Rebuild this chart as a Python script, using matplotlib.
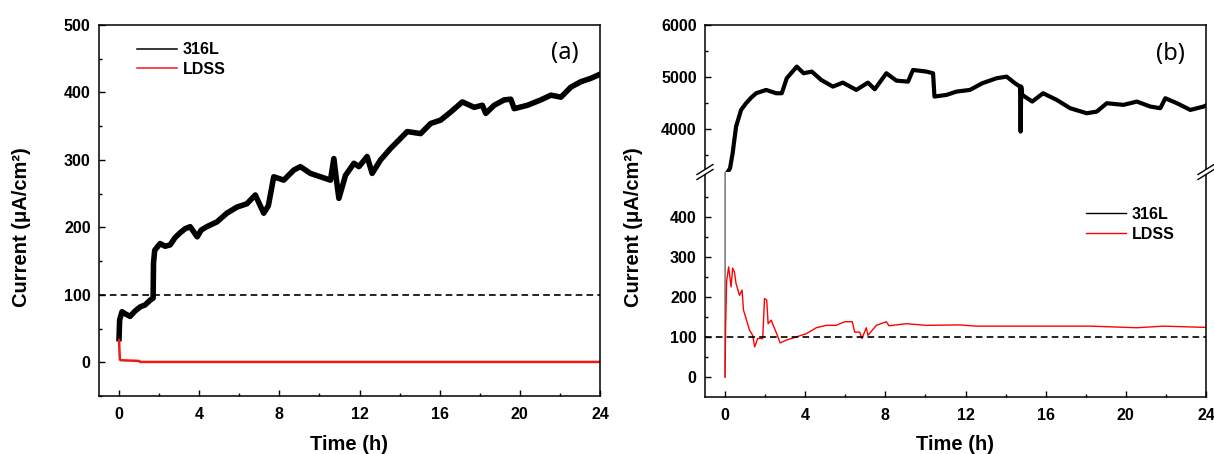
import matplotlib
matplotlib.use("Agg")
import matplotlib.pyplot as plt
from matplotlib.lines import Line2D
from matplotlib.patches import Polygon
from matplotlib.ticker import MultipleLocator, FixedLocator

plt.rcParams["font.family"] = ["Liberation Sans", "DejaVu Sans"]
plt.rcParams["font.weight"] = "bold"
plt.rcParams["axes.labelweight"] = "bold"

# (a) current vs time
t_a_316 = [0, 0.03, 0.15, 0.3, 0.55, 0.8, 1.05, 1.3, 1.55, 1.7,
           1.72, 1.78, 2.05, 2.3, 2.55, 2.8, 3.05, 3.3, 3.55, 3.9,
           4.1, 4.38, 4.88, 5.38, 5.88, 6.38, 6.8, 7.22, 7.45, 7.72,
           8.22, 8.72, 9.05, 9.55, 10.05, 10.55, 10.72, 10.85, 10.97, 11.3,
           11.72, 11.97, 12.38, 12.63, 13.05, 13.55, 14.05, 14.38, 15.05, 15.55,
           16.05, 16.55, 17.13, 17.72, 18.13, 18.3, 18.72, 19.22, 19.55, 19.72,
           20.38, 21.05, 21.55, 22.05, 22.55, 23.05, 23.55, 24]
i_a_316 = [35, 63, 75, 72, 68, 76, 82, 85, 92, 95,
           147, 166, 176, 172, 174, 185, 192, 198, 201, 186,
           196, 201, 208, 221, 230, 235, 248, 221, 232, 275,
           270, 285, 290, 280, 275, 270, 302, 270, 243, 277,
           295, 290, 305, 280, 300, 317, 332, 342, 339, 354,
           359, 371, 386, 378, 381, 369, 381, 389, 390, 376,
           381, 389, 396, 393, 408, 416, 421, 427]
t_a_ldss = [0, 0.04, 0.1, 1.0, 1.05, 24]
i_a_ldss = [33, 4, 3, 2, 0.5, 0.5]

# (b)
t_b_316 = [0, 0.02, 0.25, 0.38, 0.55, 0.8, 1.05, 1.3, 1.55, 2.05,
           2.55, 2.83, 3.08, 3.58, 3.92, 4.33, 4.8, 5.38, 5.88, 6.55,
           7.13, 7.47, 8.05, 8.55, 9.13, 9.38, 10.05, 10.38, 10.45, 11.05,
           11.55, 12.22, 12.83, 13.55, 14.05, 14.47, 14.72, 14.75, 14.78, 14.83,
           15.33, 15.87, 16.55, 17.22, 18.05, 18.55, 19.05, 19.88, 20.55, 21.22,
           21.72, 21.97, 22.55, 23.22, 23.88, 24]
i_b_316 = [0, 3100, 3244, 3533, 4044, 4365, 4494, 4600, 4686, 4750,
           4686, 4686, 4975, 5199, 5071, 5103, 4942, 4814, 4891, 4750,
           4891, 4763, 5071, 4929, 4910, 5135, 5103, 5071, 4622, 4654,
           4718, 4750, 4878, 4975, 5006, 4878, 4814, 3948, 4814, 4654,
           4526, 4686, 4558, 4398, 4301, 4333, 4494, 4462, 4526, 4430,
           4398, 4590, 4494, 4365, 4430, 4450]
t_b_ldss = [0, 0.03, 0.08, 0.18, 0.3, 0.38, 0.47, 0.55, 0.72, 0.85,
            0.92, 1.05, 1.22, 1.38, 1.48, 1.63, 1.88, 1.97, 2.08, 2.15,
            2.3, 2.47, 2.58, 2.75, 3.05, 3.55, 4.05, 4.55, 5.05, 5.55,
            5.97, 6.35, 6.47, 6.72, 6.83, 7.05, 7.13, 7.55, 8.05, 8.18,
            9.05, 10.05, 11.72, 12.55, 14.88, 18.22, 20.55, 21.88, 23.88, 24]
i_b_ldss = [0, 130, 240, 275, 225, 272, 262, 233, 204, 217,
            167, 146, 117, 104, 75, 96, 96, 196, 192, 133,
            142, 121, 108, 85, 92, 100, 108, 123, 129, 129,
            138, 138, 112, 112, 96, 123, 104, 129, 138, 128,
            133, 129, 130, 127, 127, 127, 123, 127, 124, 124]

limit = 100
xticks = [0, 4, 8, 12, 16, 20, 24]

W, H = 1214, 454
fig = plt.figure(figsize=(W / 100, H / 100), dpi=100)


def fx(px):
    return px / W


def fy(py):
    return 1 - py / H


def style(ax):
    ax.tick_params(which="both", direction="in", top=False, right=False,
                   width=1, labelsize=11.5)
    ax.tick_params(which="major", length=4.5, pad=6)
    ax.tick_params(which="minor", length=2.5)
    ax.tick_params(axis="x", pad=8)
    for s in ax.spines.values():
        s.set_linewidth(1.1)
    ax.set_xlim(-1, 24)
    ax.set_xticks(xticks)
    ax.xaxis.set_minor_locator(MultipleLocator(2))


def legend(ax, anchor):
    leg = ax.legend(loc="upper left", bbox_to_anchor=anchor, frameon=False,
                    fontsize=11.5, handlelength=2.5, handletextpad=0.35,
                    labelspacing=0.3, borderpad=0)
    for ln in leg.get_lines():
        ln.set_linewidth(1.1)


# panel (a)
ax1 = fig.add_axes([fx(99), fy(396), fx(600) - fx(99), fy(25) - fy(396)])
ax1.plot(t_a_316, i_a_316, color="black", lw=4.0, solid_joinstyle="round",
         label="316L")
ax1.plot(t_a_ldss, i_a_ldss, color="#f21818", lw=1.8, label="LDSS")
ax1.axhline(limit, color="black", lw=1.2, dashes=(4, 2.5))
ax1.set_ylim(-50, 500)
ax1.yaxis.set_major_locator(MultipleLocator(100))
ax1.yaxis.set_minor_locator(MultipleLocator(50))
style(ax1)
legend(ax1, (0.06, 0.975))
ax1.text(0.93, 0.925, "(a)", transform=ax1.transAxes, ha="center", va="center",
         fontsize=17, fontweight="normal", family=["Noto Sans", "DejaVu Sans"])

# panel (b): broken y axis
axt = fig.add_axes([fx(705), fy(172), fx(1206) - fx(705), fy(25) - fy(172)])
axb = fig.add_axes([fx(705), fy(397), fx(1206) - fx(705), fy(172) - fy(397)])
axt.plot(t_b_316, i_b_316, color="black", lw=3.0, solid_joinstyle="round",
         label="316L")
axt.plot(t_b_ldss, i_b_ldss, color="red", lw=1.0, label="LDSS")
axb.plot(t_b_316, i_b_316, color="#555555", lw=0.9, label="316L")
axb.plot(t_b_ldss, i_b_ldss, color="red", lw=1.0, label="LDSS")
axb.axhline(limit, color="black", lw=1.2, dashes=(4, 2.5))
axt.set_ylim(3170, 6000)
axt.yaxis.set_major_locator(MultipleLocator(1000))
axt.yaxis.set_minor_locator(MultipleLocator(500))
axb.set_ylim(-50, 512)
axb.yaxis.set_major_locator(FixedLocator([0, 100, 200, 300, 400]))
axb.yaxis.set_minor_locator(FixedLocator([50, 150, 250, 350, 450]))
style(axt)
style(axb)
axt.spines["bottom"].set_visible(False)
axt.tick_params(axis="x", which="both", bottom=False, labelbottom=False)
axb.spines["top"].set_visible(False)
h, l = axb.get_legend_handles_labels()
leg = axb.legend(h, l, loc="upper left", bbox_to_anchor=(0.745, 0.88),
                 frameon=False, fontsize=11.5, handlelength=2.5,
                 handletextpad=0.35, labelspacing=0.3, borderpad=0)
leg.get_lines()[0].set_color("black")
for ln in leg.get_lines():
    ln.set_linewidth(1.0)
axt.text(0.93, 0.8, "(b)", transform=axt.transAxes, ha="center", va="center",
         fontsize=17, fontweight="normal", family=["Noto Sans", "DejaVu Sans"])

# axis labels
for cx in (22, 634):
    fig.text(fx(cx), 0.5, "Current (μA/cm²)", rotation=90, ha="center",
             va="center", fontsize=14.5, fontweight="bold")
for cx in (349.5, 955.5):
    fig.text(fx(cx), fy(445), "Time (h)", ha="center", va="center",
             fontsize=14.5, fontweight="bold")


# break marks on the (b) spines
def brk(cx, cy):
    dx, dy, g = 8, 5, 2.5
    poly = Polygon([(fx(cx - dx), fy(cy + dy - g)), (fx(cx + dx), fy(cy - dy - g)),
                    (fx(cx + dx), fy(cy - dy + g)), (fx(cx - dx), fy(cy + dy + g))],
                   closed=True, transform=fig.transFigure, facecolor="white",
                   edgecolor="none", zorder=10)
    fig.add_artist(poly)
    for off in (-g, g):
        fig.add_artist(Line2D([fx(cx - dx), fx(cx + dx)],
                              [fy(cy + dy + off), fy(cy - dy + off)],
                              transform=fig.transFigure, color="black",
                              lw=1, zorder=11))


brk(705, 172)
brk(1206, 172)

fig.savefig("out.png", dpi=100)
